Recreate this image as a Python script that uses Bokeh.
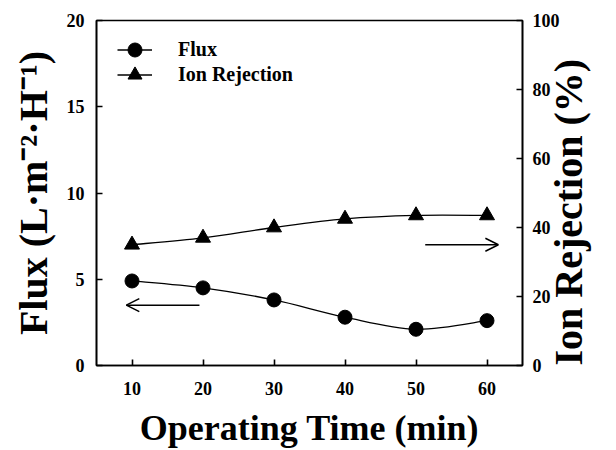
import math
from bokeh.plotting import figure
from bokeh.models import (Range1d, LinearAxis, FixedTicker, Legend, LegendItem,
                          Arrow, OpenHead)
from bokeh.embed import file_html
from bokeh.resources import INLINE

# ---- data ----
time_min = [10, 20, 30, 40, 50, 60]
flux = [4.9, 4.5, 3.8, 2.8, 2.1, 2.6]
ion_rejection = [35.0, 37.0, 40.0, 42.5, 43.5, 43.5]

x_ticks = [10, 20, 30, 40, 50, 60]
flux_ticks = [0, 5, 10, 15, 20]
rej_ticks = [0, 20, 40, 60, 80, 100]

# arrows pointing to each series' axis: [x_start, x_end, y]
flux_arrow = [19.5, 9.2, 3.5]
rej_arrow = [51.3, 61.6, 35.0]

FONT = "Liberation Serif"


def smooth_segments(xs, ys):
    """Catmull-Rom style bezier control points through the data points."""
    n = len(xs)
    out = {k: [] for k in ("x0", "y0", "x1", "y1", "cx0", "cy0", "cx1", "cy1")}
    for i in range(n - 1):
        xp, yp = (xs[i - 1], ys[i - 1]) if i > 0 else (xs[i], ys[i])
        xn, yn = (xs[i + 2], ys[i + 2]) if i + 2 < n else (xs[i + 1], ys[i + 1])
        out["x0"].append(xs[i]); out["y0"].append(ys[i])
        out["x1"].append(xs[i + 1]); out["y1"].append(ys[i + 1])
        out["cx0"].append(xs[i] + (xs[i + 1] - xp) / 6)
        out["cy0"].append(ys[i] + (ys[i + 1] - yp) / 6)
        out["cx1"].append(xs[i + 1] - (xn - xs[i]) / 6)
        out["cy1"].append(ys[i + 1] - (yn - ys[i]) / 6)
    return out


p = figure(width=616, height=450, output_backend="svg", toolbar_location=None,
           x_range=Range1d(5, 65), y_range=Range1d(0, 20),
           min_border_left=96, min_border_right=84, min_border_top=20,
           min_border_bottom=82)
p.extra_y_ranges = {"rej": Range1d(0, 100)}
p.xgrid.visible = False
p.ygrid.visible = False
p.outline_line_color = "black"
p.outline_line_width = 1.6
p.background_fill_color = "white"
p.border_fill_color = "white"


def style_axis(ax, label_size):
    ax.axis_line_color = "black"
    ax.axis_line_width = 1.6
    ax.major_tick_line_color = "black"
    ax.major_tick_line_width = 1.6
    ax.major_tick_in = 6
    ax.major_tick_out = 0
    ax.minor_tick_line_color = None
    ax.major_label_text_font = FONT
    ax.major_label_text_font_style = "bold"
    ax.major_label_text_font_size = "18px"
    ax.major_label_text_color = "black"
    ax.axis_label_text_font = FONT
    ax.axis_label_text_font_style = "bold"
    ax.axis_label_text_font_size = label_size
    ax.axis_label_text_color = "black"


xa = p.xaxis[0]
style_axis(xa, "36px")
xa.ticker = FixedTicker(ticks=x_ticks)
xa.axis_label = "Operating Time (min)"
xa.major_label_standoff = 16
xa.axis_label_standoff = 10

ya = p.yaxis[0]
style_axis(ya, "40px")
ya.ticker = FixedTicker(ticks=flux_ticks)
ya.axis_label = "Flux (L·m⁻²·H⁻¹)"
ya.major_label_standoff = 12
ya.axis_label_standoff = 8

ra = LinearAxis(y_range_name="rej", ticker=FixedTicker(ticks=rej_ticks))
style_axis(ra, "40px")
ra.major_label_standoff = 10
ra.axis_label = " Ion Rejection (%)"
ra.axis_label_standoff = 6
if hasattr(ra, "axis_label_orientation"):
    ra.axis_label_orientation = math.pi / 2
if hasattr(ra, "axis_label_align"):
    ra.axis_label_align = "start"
p.add_layout(ra, "right")

# series
fs = smooth_segments(time_min, flux)
flux_curve = p.bezier(**fs, line_color="black", line_width=1.3)
flux_pts = p.scatter(time_min, flux, marker="circle", size=14,
                     fill_color="black", line_color="black")

rs = smooth_segments(time_min, ion_rejection)
rej_curve = p.bezier(**rs, line_color="black", line_width=1.3, y_range_name="rej")
rej_pts = p.scatter(time_min, ion_rejection, marker="triangle", size=15,
                    fill_color="black", line_color="black", y_range_name="rej")


def make_legend(label, rends, loc):
    return Legend(items=[LegendItem(label=label, renderers=rends)],
                  location=loc, border_line_alpha=0, background_fill_alpha=0,
                  label_text_font=FONT, label_text_font_style="bold",
                  label_text_font_size="20px", label_text_color="black",
                  glyph_width=35, glyph_height=35, label_height=35,
                  spacing=0, padding=0, margin=0, label_standoff=26)


p.add_layout(make_legend("Flux", [flux_curve, flux_pts], (21, 298)))
p.add_layout(make_legend("Ion Rejection", [rej_curve, rej_pts], (21, 273)))

p.add_layout(Arrow(end=OpenHead(size=13, line_width=1.5, line_color="black"),
                   x_start=flux_arrow[0], y_start=flux_arrow[2],
                   x_end=flux_arrow[1], y_end=flux_arrow[2],
                   line_width=1.5, line_color="black"))
p.add_layout(Arrow(end=OpenHead(size=13, line_width=1.5, line_color="black"),
                   x_start=rej_arrow[0], y_start=rej_arrow[2],
                   x_end=rej_arrow[1], y_end=rej_arrow[2],
                   line_width=1.5, line_color="black", y_range_name="rej"))

open("out.html", "w").write(file_html(p, INLINE))
